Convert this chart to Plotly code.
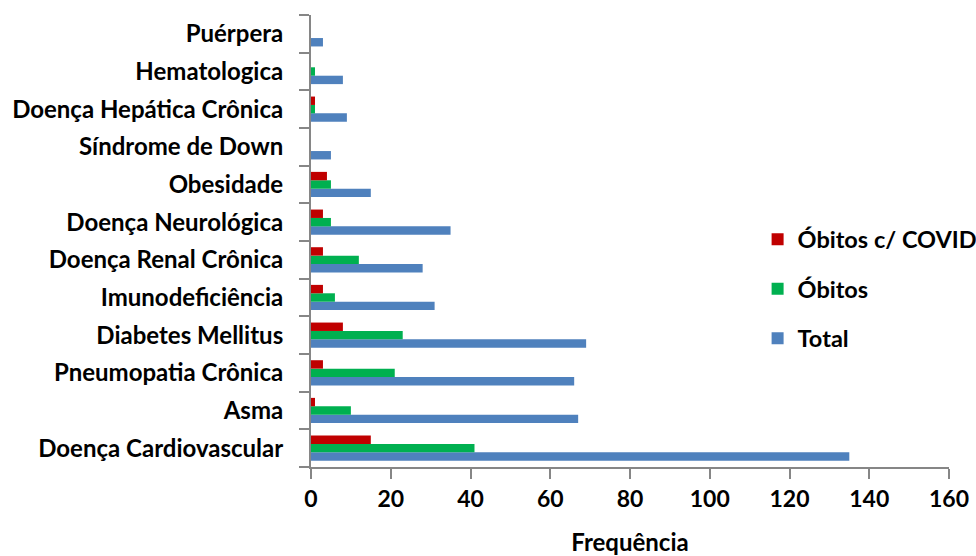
import plotly.graph_objects as go

# Comorbidities, listed from bottom to top of the chart
categorias = [
    "Doença Cardiovascular",
    "Asma",
    "Pneumopatia Crônica",
    "Diabetes Mellitus",
    "Imunodeficiência",
    "Doença Renal Crônica",
    "Doença Neurológica",
    "Obesidade",
    "Síndrome de Down",
    "Doença Hepática Crônica",
    "Hematologica",
    "Puérpera",
]
total = [135, 67, 66, 69, 31, 28, 35, 15, 5, 9, 8, 3]
obitos = [41, 10, 21, 23, 6, 12, 5, 5, 0, 1, 1, 0]
obitos_covid = [15, 1, 3, 8, 3, 3, 3, 4, 0, 1, 0, 0]

FONT = "Lato"
# (name, values, colour, legend position)
series = [
    ("Total", total, "#4F81BD", 3),
    ("Óbitos", obitos, "#00B050", 2),
    ("Óbitos c/ COVID", obitos_covid, "#C00000", 1),
]

fig = go.Figure()
for nome, valores, cor, rank in series:
    fig.add_trace(go.Bar(
        y=categorias, x=valores, name=nome, orientation="h",
        marker=dict(color=cor, line=dict(width=0)),
        legendgroup=nome, legendrank=rank,
    ))

fig.update_layout(
    width=976, height=556,
    margin=dict(l=311, r=27, t=15, b=89, autoexpand=False),
    paper_bgcolor="white", plot_bgcolor="white",
    barmode="group", bargap=0.33, bargroupgap=0,
    font=dict(family=FONT, color="black"),
    legend=dict(
        x=0.70, xanchor="left", y=0.394, yanchor="middle",
        traceorder="grouped", tracegroupgap=16,
        font=dict(family=FONT, size=23.5, color="black", weight="bold"),
        bgcolor="rgba(0,0,0,0)",
    ),
    xaxis=dict(
        range=[0, 160], tickvals=list(range(0, 161, 20)),
        automargin=False,
        showgrid=False, zeroline=False,
        showline=True, linecolor="#868686", linewidth=2,
        ticks="outside", ticklen=10, tickcolor="#868686", tickwidth=2,
        tickfont=dict(family=FONT, size=23, weight="bold"),
        title=dict(text="Frequência", standoff=24,
                   font=dict(family=FONT, size=24, weight="bold")),
    ),
    yaxis=dict(
        type="category", automargin=False,
        showgrid=False, zeroline=False,
        showline=True, linecolor="#868686", linewidth=2,
        ticks="outside", ticklen=10, tickcolor="#868686", tickwidth=2,
        tickson="boundaries",
        tickfont=dict(family=FONT, size=24, weight="bold"),
        ticklabelstandoff=21,
    ),
)

fig.write_html("out.html")
